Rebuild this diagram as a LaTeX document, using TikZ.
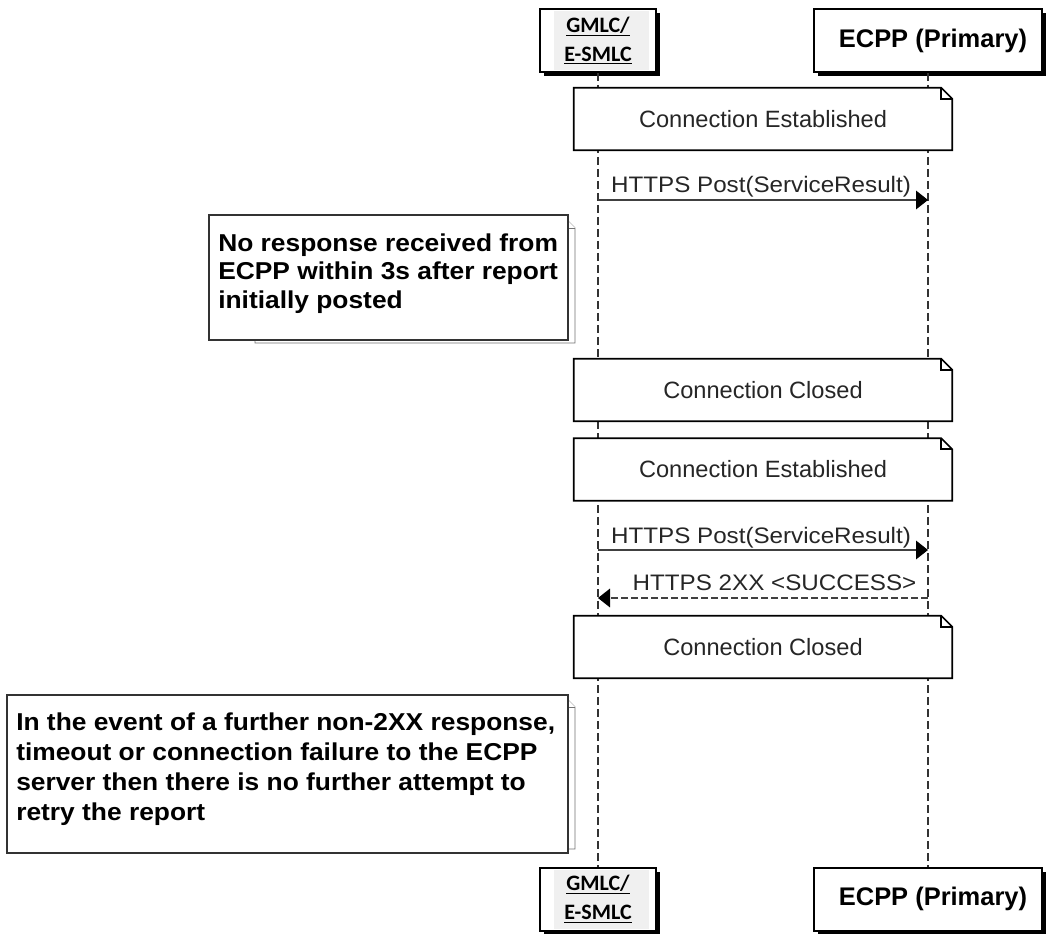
\documentclass[tikz,border=0pt]{standalone}
\usepackage{fontspec}
\setmainfont{Liberation Sans}
\newfontfamily\widesans[FakeStretch=1.08]{Liberation Sans}
\newfontfamily\carlito{Carlito}
\usetikzlibrary{arrows.meta,shadows}

% dog-eared "Connection ..." note spanning both lifelines
\newcommand\connectionnote[3]{%
  \node[connbox] (#1) at (763,#2) {#3};
  \draw[connedge] (#1.north west) -- ([xshift=-8.25pt]#1.north east)
    -- ([yshift=-8.25pt]#1.north east) -- (#1.south east) -- (#1.south west) -- cycle;
  \draw[connedge] ([xshift=-8.25pt]#1.north east) |- ([yshift=-8.25pt]#1.north east);
}

\begin{document}
\begin{tikzpicture}[x=0.75pt,y=-0.75pt,
  actor/.style={draw=black, line width=1.5pt, fill=white, minimum height=47.25pt,
    inner sep=0pt,
    drop shadow={shadow xshift=3pt, shadow yshift=-3pt, fill=black, opacity=1}},
  gmlcbox/.style={actor, minimum width=87pt},
  ecppbox/.style={actor, minimum width=171pt},
  ecpptext/.style={inner sep=0pt, font=\bfseries\fontsize{19.1}{22}\selectfont},
  gmlctext/.style={align=center, inner sep=0pt,
    font=\carlito\bfseries\fontsize{16.5}{21.75}\selectfont},
  highlight/.style={fill=black!6},
  lifeline/.style={draw=black!80, line width=0.9pt, dash pattern=on 6pt off 3pt},
  msg/.style={draw=black!75, line width=0.9pt,
    -{Triangle[length=9pt,width=14pt,fill=black,color=black]}},
  reply/.style={msg, dash pattern=on 5.25pt off 2.25pt},
  lbl/.style={anchor=base, inner sep=0pt, text=black!85,
    font=\widesans\fontsize{16.8}{18}\selectfont},
  connbox/.style={fill=white, minimum width=283.5pt, minimum height=46.5pt,
    inner sep=0pt, text=black!85, font=\fontsize{17.7}{20}\selectfont},
  connedge/.style={draw=black, line width=1.2pt, line join=miter},
  sidebox/.style={draw=black!80, line width=0.8pt, fill=white, inner sep=0pt},
  sideback/.style={draw=black!55, line width=0.7pt, fill=white},
  sidetext/.style={anchor=west, align=left, inner sep=0pt,
    font=\widesans\bfseries\fontsize{18.3}{21.4}\selectfont}
]
\useasboundingbox (0,0) rectangle (1046,934);

% participants, top and bottom
\node[gmlcbox] (gtop) at (598,40.5) {};
\fill[highlight] (554,11) rectangle (649,70);
\node[gmlctext] (gtop-label) at (gtop) {\underline{GMLC/}\\\underline{E-SMLC}};
\node[ecppbox] (etop) at (928,40.5) {};
\node[ecpptext] (etop-label) at (933,40.5) {ECPP (Primary)};

\node[gmlcbox] (gbot) at (598,899) {};
\fill[highlight] (554,870) rectangle (649,929);
\node[gmlctext] (gbot-label) at (gbot) {\underline{GMLC/}\\\underline{E-SMLC}};
\node[ecppbox] (ebot) at (928,899) {};
\node[ecpptext] (ebot-label) at (933,899) {ECPP (Primary)};

% lifelines
\draw[lifeline] (gtop.south) -- (gbot.north);
\draw[lifeline] (etop.south) -- (ebot.north);

% first attempt
\connectionnote{ce1}{119}{Connection Established}
\coordinate (m1g) at (598,200);
\coordinate (m1e) at (928,200);
\draw[msg] (m1g) -- node[lbl, yshift=5.25pt, xshift=-1.5pt] {HTTPS Post(ServiceResult)} (m1e);

% timeout note
\draw[sideback] (255,221) -- (568,221) -- (575,228) -- (575,343) -- (255,343) -- cycle;
\draw[sideback] (568,221) |- (575,228);
\node[sidebox, minimum width=269.25pt, minimum height=93.75pt] (noteA) at (388.5,277.5) {};
\node[sidetext] (noteA-text) at (218,273.5)
  {No response received from\\ECPP within 3s after report\\initially posted};

\connectionnote{cc1}{390}{Connection Closed}

% retry
\connectionnote{ce2}{469.5}{Connection Established}
\coordinate (m2g) at (598,550);
\coordinate (m2e) at (928,550);
\draw[msg] (m2g) -- node[lbl, yshift=5.25pt, xshift=-1.5pt] {HTTPS Post(ServiceResult)} (m2e);
\coordinate (r2e) at (928,598);
\coordinate (r2g) at (598,598);
\draw[reply] (r2e) -- node[lbl, pos=0.465, yshift=6pt] {HTTPS 2XX <SUCCESS>} (r2g);
\connectionnote{cc2}{647}{Connection Closed}

% final note
\draw[sideback] (50,700) -- (568,700) -- (575,707) -- (575,849) -- (50,849) -- cycle;
\draw[sideback] (568,700) |- (575,707);
\node[sidebox, minimum width=420.75pt, minimum height=118.5pt] (noteB) at (287.5,774) {};
\node[sidetext, font=\widesans\bfseries\fontsize{18.3}{22.5}\selectfont] (noteB-text) at (16,769)
  {In the event of a further non-2XX response,\\timeout or connection failure to the ECPP\\server then there is no further attempt to\\retry the report};
\end{tikzpicture}
\end{document}
